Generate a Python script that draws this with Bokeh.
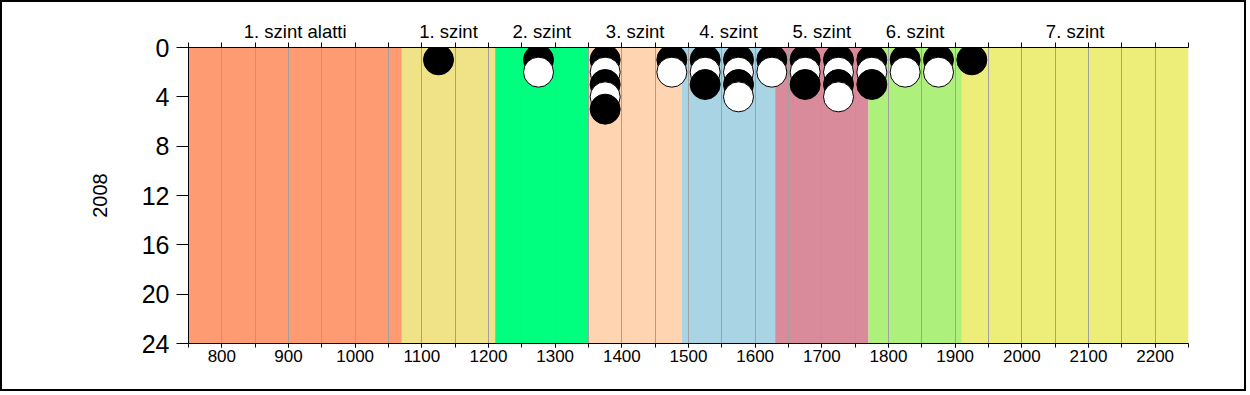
from bokeh.plotting import figure
from bokeh.models import Range1d, FixedTicker, LinearAxis, ColumnDataSource
from bokeh.embed import file_html
from bokeh.resources import INLINE

# ---- data ----
band_edges = [750, 1070, 1210, 1350, 1490, 1630, 1770, 1910, 2250]
band_labels = ["1. szint alatti", "1. szint", "2. szint", "3. szint",
               "4. szint", "5. szint", "6. szint", "7. szint"]
band_colors = ["#FF9B73", "#EFE287", "#00FF7F", "#FED5B0",
               "#A8D4E3", "#D98A9B", "#ADF07C", "#EDED7A"]
score_bins = [1125, 1275, 1375, 1475, 1525, 1575, 1625, 1675, 1725, 1775, 1825, 1875, 1925]
student_counts = [1, 2, 5, 2, 3, 4, 2, 3, 4, 3, 2, 2, 1]
x_ticks = [800, 900, 1000, 1100, 1200, 1300, 1400, 1500, 1600, 1700, 1800, 1900, 2000, 2100, 2200]
y_ticks = [0, 4, 8, 12, 16, 20, 24]
year_label = "2008"

FONT = "Liberation Sans"
step50 = list(range(band_edges[0], band_edges[-1] + 1, 50))

p = figure(width=1246, height=391,
           x_range=Range1d(band_edges[0], band_edges[-1]),
           y_range=Range1d(y_ticks[-1], y_ticks[0]),
           output_backend="svg", toolbar_location=None,
           min_border_left=186, min_border_right=60,
           min_border_top=45, min_border_bottom=50)
p.styles = {"border": "2px solid black"}
p.outline_line_color = None
p.background_fill_color = "white"
p.border_fill_color = "white"

# bands
bands = ColumnDataSource(dict(left=band_edges[:-1], right=band_edges[1:],
                              color=band_colors))
p.quad(left="left", right="right", bottom=y_ticks[-1], top=y_ticks[0],
       fill_color="color", line_color=None, source=bands, level="image")

# grid
p.ygrid.visible = False
p.xgrid.ticker = FixedTicker(ticks=step50)
p.xgrid.grid_line_color = "#a0a0a0"
p.xgrid.grid_line_width = 1

# points (stacked, alternating black / white)
xs, ys, fills = [], [], []
for b, c in zip(score_bins, student_counts):
    for k in range(1, c + 1):
        xs.append(b)
        ys.append(k)
        fills.append("black" if k % 2 == 1 else "white")
pts = ColumnDataSource(dict(x=xs, y=ys, fill=fills))
p.scatter("x", "y", source=pts, size=30, fill_color="fill",
          line_color="black", line_width=1)

# bottom axis
xa = p.xaxis[0]
xa.ticker = FixedTicker(ticks=x_ticks, minor_ticks=step50)
xa.major_tick_in = 0
xa.major_tick_out = 4
xa.minor_tick_in = 0
xa.minor_tick_out = 4
xa.major_label_standoff = 2
xa.major_label_text_font = FONT
xa.major_label_text_font_size = "17px"
xa.major_label_text_color = "black"
xa.axis_line_color = "black"
xa.major_tick_line_color = "black"
xa.minor_tick_line_color = "black"

# left axis
ya = p.yaxis[0]
ya.ticker = FixedTicker(ticks=y_ticks)
ya.major_tick_in = 0
ya.major_tick_out = 12
ya.minor_tick_line_color = None
ya.major_label_standoff = 7
ya.major_label_text_font = FONT
ya.major_label_text_font_size = "25px"
ya.major_label_text_color = "black"
ya.axis_line_color = "black"
ya.major_tick_line_color = "black"
ya.axis_label = year_label
ya.axis_label_text_font = FONT
ya.axis_label_text_font_size = "20px"
ya.axis_label_text_font_style = "normal"
ya.axis_label_text_color = "black"
ya.axis_label_standoff = 32

# top axis with level names
mids = [(a + b) / 2 for a, b in zip(band_edges[:-1], band_edges[1:])]
top = LinearAxis(ticker=FixedTicker(ticks=mids, minor_ticks=step50),
                 major_label_overrides={m: lab for m, lab in zip(mids, band_labels)})
top.major_tick_line_color = None
top.major_tick_in = 0
top.major_tick_out = 0
top.minor_tick_in = 0
top.minor_tick_out = 5
top.minor_tick_line_color = "black"
top.axis_line_color = "black"
top.major_label_standoff = 1
top.major_label_text_font = FONT
top.major_label_text_font_size = "18.5px"
top.major_label_text_color = "black"
p.add_layout(top, "above")

open("out.html", "w").write(file_html(p, INLINE))
